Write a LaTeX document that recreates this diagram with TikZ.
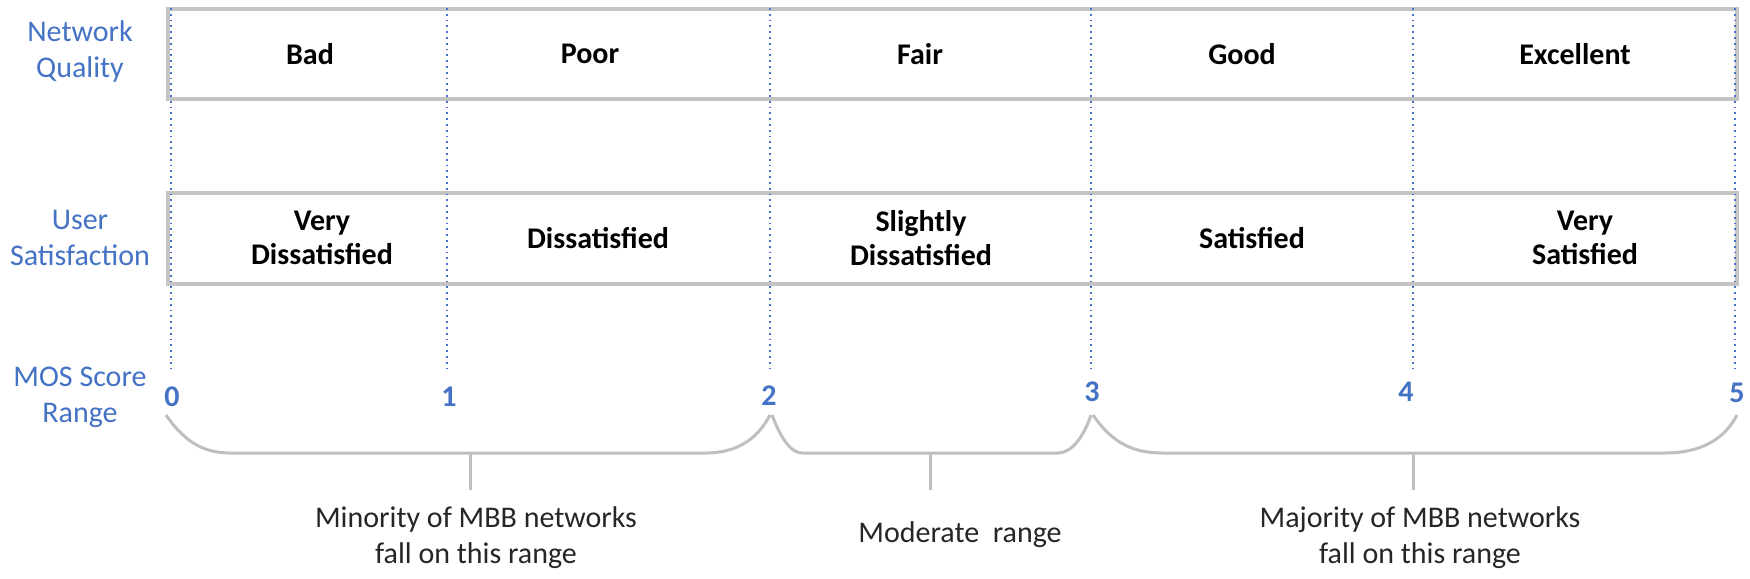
\documentclass[tikz,border=0pt]{standalone}
\usepackage{fontspec}
\setmainfont{Carlito}
\begin{document}
\begin{tikzpicture}[x=0.5pt,y=-0.5pt,
  frame/.style={draw=boxgray,line width=2pt},
  guide/.style={draw=qblue,dotted,line width=0.9pt},
  bracepath/.style={draw=bracegray,line width=1.5pt},
  cell/.style={font=\fontsize{15}{17}\selectfont\bfseries,text=black,align=center,inner sep=0pt},
  side/.style={font=\fontsize{15}{18}\selectfont,text=qblue,align=center,inner sep=0pt},
  num/.style={font=\fontsize{15}{17}\selectfont\bfseries,text=qblue,inner sep=0pt},
  note/.style={font=\fontsize{15}{18}\selectfont,text=notegray,align=center,inner sep=0pt}]
\definecolor{qblue}{HTML}{4472C4}
\definecolor{boxgray}{HTML}{C4C4C4}
\definecolor{bracegray}{HTML}{BFBFBF}
\definecolor{notegray}{HTML}{262626}
\useasboundingbox (0,0) rectangle (1750,578);
\fill[white] (0,0) rectangle (1750,578);

% boxes
\draw[frame] (168,9) rectangle (1737,99);
\draw[frame] (168,193) rectangle (1737,284);

% tick coordinates
\coordinate (t0) at (171,8);  \coordinate (b0) at (171,370);
\coordinate (t1) at (447,8);  \coordinate (b1) at (447,370);
\coordinate (t2) at (770,8);  \coordinate (b2) at (770,370);
\coordinate (t3) at (1091,8); \coordinate (b3) at (1091,370);
\coordinate (t4) at (1413,8); \coordinate (b4) at (1413,370);
\coordinate (t5) at (1735,8); \coordinate (b5) at (1735,370);
\foreach \i in {0,...,5} \draw[guide] (t\i) -- (b\i);

% side labels
\node[side] (nq) at (80,52) {Network\\Quality};
\node[side] (us) at (80,238) {User\\Satisfaction};
\node[side] (mos) at (80,397) {MOS Score\\Range};

% quality row
\node[cell] (bad) at (310,54) {Bad};
\node[cell] (poor) at (590,54) {Poor};
\node[cell] (fair) at (920,54) {Fair};
\node[cell] (good) at (1242,54) {Good};
\node[cell] (exc) at (1575,54) {Excellent};

% satisfaction row
\node[cell] (vd) at (322,238) {Very\\Dissatisfied};
\node[cell] (dis) at (598,238) {Dissatisfied};
\node[cell] (sd) at (921,238) {Slightly\\Dissatisfied};
\node[cell] (sat) at (1252,238) {Satisfied};
\node[cell] (vs) at (1585,238) {Very\\Satisfied};

% numbers
\node[num] (n0) at (172,397) {0};
\node[num] (n1) at (449,397) {1};
\node[num] (n2) at (769,396) {2};
\node[num] (n3) at (1092,392) {3};
\node[num] (n4) at (1406,392) {4};
\node[num] (n5) at (1737,393) {5};

% braces
\coordinate (a0) at (166,415);
\coordinate (a2l) at (770,415);
\coordinate (a2r) at (772,415);
\coordinate (a3l) at (1091,415);
\coordinate (a3r) at (1093,415);
\coordinate (a5) at (1737,415);
\coordinate (m1) at (470,453); \coordinate (p1) at (470,490);
\coordinate (m2) at (930,453); \coordinate (p2) at (930,490);
\coordinate (m3) at (1413,453); \coordinate (p3) at (1413,490);

\draw[bracepath] (a0) .. controls (182,438) and (200,453) .. (230,453) -- (706,453)
   .. controls (738,453) and (758,438) .. (a2l);
\draw[bracepath] (a2r) .. controls (780,436) and (790,453) .. (802,453) -- (1058,453)
   .. controls (1072,453) and (1084,436) .. (a3l);
\draw[bracepath] (a3r) .. controls (1110,440) and (1130,453) .. (1162,453) -- (1665,453)
   .. controls (1700,453) and (1724,440) .. (a5);
\draw[bracepath] (m1) -- (p1);
\draw[bracepath] (m2) -- (p2);
\draw[bracepath] (m3) -- (p3);

% notes
\node[note] (min) at (476,538) {Minority of MBB networks\\fall on this range};
\node[note] (mod) at (960,535) {Moderate~~range};
\node[note] (maj) at (1420,538) {Majority of MBB networks\\fall on this range};
\end{tikzpicture}
\end{document}
